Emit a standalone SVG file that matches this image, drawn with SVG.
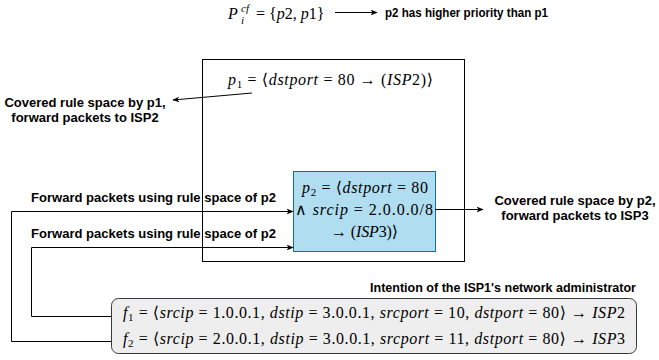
<svg xmlns="http://www.w3.org/2000/svg" width="659" height="360" viewBox="0 0 659 360">
<defs>
<marker id="ah" viewBox="0 0 10 10" refX="9" refY="5" markerWidth="7" markerHeight="7" markerUnits="userSpaceOnUse" orient="auto">
<path d="M0,1 L10,5 L0,9 L2.5,5 Z" fill="#000"/>
</marker>
<style>
.lbl{font-family:"Liberation Sans",Arial,sans-serif;font-weight:bold;font-size:13px;fill:#000}
.m{font-family:"Liberation Serif","DejaVu Serif",serif;font-size:16px;fill:#000}
.i{font-style:italic}
.s{font-size:11px}
.conn{fill:none;stroke:#000;stroke-width:1}
</style>
</defs>
<rect width="659" height="360" fill="#fff"/>

<g id="header">
<text class="m" x="228" y="19"><tspan class="i">P</tspan><tspan class="i s" x="241" dy="-7">cf</tspan><tspan class="i s" x="241" dy="12">i</tspan><tspan x="256" dy="-5">= {</tspan><tspan class="i">p</tspan>2, <tspan class="i">p</tspan>1}</text>
<text class="lbl" x="385" y="17" font-size="12" textLength="163" lengthAdjust="spacingAndGlyphs">p2 has higher priority than p1</text>
</g>

<g id="outer-box">
<rect x="202.5" y="59.5" width="262" height="202" fill="none" stroke="#000" stroke-width="1"/>
<text class="m" x="228" y="85" textLength="205" lengthAdjust="spacing"><tspan class="i">p</tspan><tspan class="s" dy="3">1</tspan><tspan dy="-3"> = ⟨</tspan><tspan class="i">dstport</tspan> = 80 → (<tspan class="i">ISP</tspan>2)⟩</text>
</g>

<g id="p2-box">
<rect x="293.5" y="171.5" width="142" height="80" fill="#b1ddf0" stroke="#10739e" stroke-width="1"/>
<text class="m" x="302" y="193" textLength="126" lengthAdjust="spacing"><tspan class="i">p</tspan><tspan class="s" dy="3">2</tspan><tspan dy="-3"> = ⟨</tspan><tspan class="i">dstport</tspan> = 80</text>
<text class="m" x="295" y="215" textLength="138" lengthAdjust="spacing">∧ <tspan class="i">srcip</tspan> = 2.0.0.0/8</text>
<text class="m" x="331" y="237" textLength="67" lengthAdjust="spacing">→ (<tspan class="i">ISP</tspan>3)⟩</text>
</g>

<g id="flows-box">
<rect x="111.5" y="298.5" width="525" height="55" rx="7" ry="7" fill="#eeeeee" stroke="#36393d" stroke-width="1"/>
<text class="m" x="123" y="318" textLength="502" lengthAdjust="spacing"><tspan class="i">f</tspan><tspan class="s" dy="3">1</tspan><tspan dy="-3"> = ⟨</tspan><tspan class="i">srcip</tspan> = 1.0.0.1, <tspan class="i">dstip</tspan> = 3.0.0.1, <tspan class="i">srcport</tspan> = 10, <tspan class="i">dstport</tspan> = 80⟩ → <tspan class="i">ISP</tspan>2</text>
<text class="m" x="123" y="344" textLength="502" lengthAdjust="spacing"><tspan class="i">f</tspan><tspan class="s" dy="3">2</tspan><tspan dy="-3"> = ⟨</tspan><tspan class="i">srcip</tspan> = 2.0.0.1, <tspan class="i">dstip</tspan> = 3.0.0.1, <tspan class="i">srcport</tspan> = 11, <tspan class="i">dstport</tspan> = 80⟩ → <tspan class="i">ISP</tspan>3</text>
</g>

<g id="labels">
<text class="lbl" x="85" y="107" text-anchor="middle">Covered rule space by p1,</text>
<text class="lbl" x="85" y="122" text-anchor="middle">forward packets to ISP2</text>
<text class="lbl" x="31" y="202" textLength="245" lengthAdjust="spacingAndGlyphs">Forward packets using rule space of p2</text>
<text class="lbl" x="31" y="238" textLength="245" lengthAdjust="spacingAndGlyphs">Forward packets using rule space of p2</text>
<text class="lbl" x="575" y="205" text-anchor="middle">Covered rule space by p2,</text>
<text class="lbl" x="575" y="220" text-anchor="middle">forward packets to ISP3</text>
<text class="lbl" x="370" y="292" textLength="266" lengthAdjust="spacingAndGlyphs">Intention of the ISP1's network administrator</text>
</g>

<g id="connectors">
<line class="conn" x1="335" y1="12.5" x2="377" y2="12.5" marker-end="url(#ah)"/>
<line class="conn" x1="252" y1="93" x2="173" y2="100" marker-end="url(#ah)"/>
<line class="conn" x1="435" y1="209.5" x2="483" y2="209.5" marker-end="url(#ah)"/>
<polyline class="conn" points="111,341.5 11.5,341.5 11.5,211.5 293,211.5" marker-end="url(#ah)"/>
<polyline class="conn" points="111,316.5 31.5,316.5 31.5,247.5 293,247.5" marker-end="url(#ah)"/>
</g>
</svg>
